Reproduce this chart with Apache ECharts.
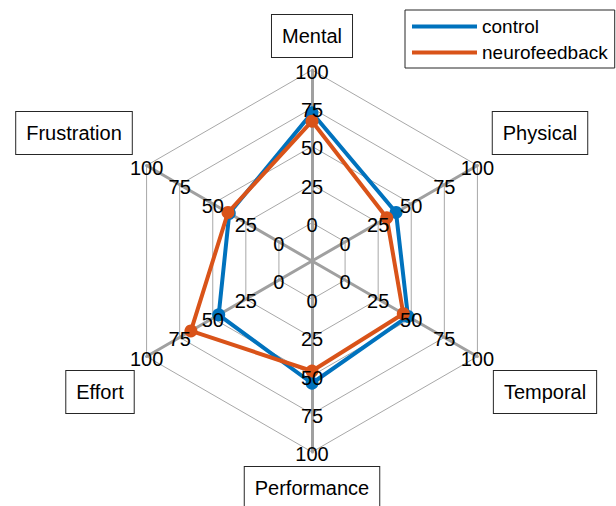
<!DOCTYPE html>
<html>
<head>
<meta charset="utf-8">
<script src="https://cdn.jsdelivr.net/npm/echarts@6/dist/echarts.min.js"></script>
<style>
html,body{margin:0;padding:0;background:#fff;}
#chart{width:616px;height:506px;}
</style>
</head>
<body>
<div id="chart"></div>
<script>
// Categories in clockwise display order, starting at the top
const categories = ['Mental', 'Physical', 'Temporal', 'Performance', 'Effort', 'Frustration'];
const controlValues = [72, 38.5, 47.5, 55, 45.5, 37.5];
const neurofeedbackValues = [66.5, 31.5, 44, 47, 66.5, 38.5];
const tickValues = [0, 25, 50, 75, 100];
const seriesNames = ['control', 'neurofeedback'];
const axisMin = -25;
const axisMax = 100;

const FONT = "'Liberation Sans', Arial, Helvetica, sans-serif";
const CENTER = [312, 261];
const RADIUS = 191;
const BLUE = '#0072BD';
const ORANGE = '#D95319';

// ECharts radar runs counter-clockwise; reorder so display is clockwise
const n = categories.length;
const order = categories.map((_, k) => (n - k) % n);
const indicators = order.map(i => ({ name: categories[i], min: axisMin, max: axisMax }));
const reorder = arr => order.map(i => arr[i]);

// Tick labels placed on each spoke via polar overlay
const tickData = [];
categories.forEach((c, i) => {
  tickValues.forEach(t => tickData.push([t, i * 360 / n]));
});

// Axis name boxes (layout centers)
const namePos = {
  'Mental': [312, 36],
  'Physical': [540, 133],
  'Temporal': [545, 392],
  'Performance': [312, 488],
  'Effort': [100, 392],
  'Frustration': [74, 133]
};

const chart = echarts.init(document.getElementById('chart'), null, { renderer: 'svg' });
chart.setOption({
  backgroundColor: '#fff',
  animation: false,
  textStyle: { fontFamily: FONT },
  legend: {
    data: seriesNames,
    orient: 'vertical',
    left: 405,
    top: 10,
    icon: 'rect',
    itemWidth: 65,
    itemHeight: 4,
    itemGap: 7,
    padding: [7, 7, 6, 7],
    borderColor: '#262626',
    borderWidth: 1,
    backgroundColor: '#fff',
    textStyle: { fontFamily: FONT, fontSize: 19, color: '#000' },
    selectedMode: false
  },
  radar: {
    center: CENTER,
    radius: RADIUS,
    shape: 'polygon',
    splitNumber: 5,
    indicator: indicators,
    axisName: { show: false },
    axisLabel: { show: false },
    axisTick: { show: false },
    axisLine: { lineStyle: { color: '#a0a0a0', width: 3 } },
    splitLine: { lineStyle: { color: '#a8a8a8', width: 1 } },
    splitArea: { show: false }
  },
  polar: { center: CENTER, radius: RADIUS },
  angleAxis: {
    type: 'value', min: 0, max: 360, startAngle: 90, clockwise: true,
    show: false, axisLine: { show: false }, splitLine: { show: false }, axisLabel: { show: false }, axisTick: { show: false }
  },
  radiusAxis: {
    type: 'value', min: axisMin, max: axisMax,
    show: false, axisLine: { show: false }, splitLine: { show: false }, axisLabel: { show: false }, axisTick: { show: false }
  },
  series: [
    {
      name: seriesNames[0],
      type: 'radar',
      symbol: 'circle',
      symbolSize: 13,
      itemStyle: { color: BLUE },
      lineStyle: { color: BLUE, width: 4 },
      z: 3,
      data: [{ name: seriesNames[0], value: reorder(controlValues) }]
    },
    {
      name: seriesNames[1],
      type: 'radar',
      symbol: 'circle',
      symbolSize: 13,
      itemStyle: { color: ORANGE },
      lineStyle: { color: ORANGE, width: 4 },
      z: 4,
      data: [{ name: seriesNames[1], value: reorder(neurofeedbackValues) }]
    },
    {
      type: 'scatter',
      coordinateSystem: 'polar',
      symbolSize: 0,
      silent: true,
      z: 10,
      itemStyle: { opacity: 1, color: '#000' },
      data: tickData,
      label: {
        show: true,
        position: 'inside',
        offset: [0, 2],
        formatter: p => String(p.value[0]),
        color: '#000',
        opacity: 1,
        textBorderWidth: 0,
        textBorderColor: 'transparent',
        fontSize: 20,
        fontFamily: FONT
      }
    }
  ],
  graphic: categories.map(c => ({
    type: 'text',
    x: namePos[c][0],
    y: namePos[c][1],
    z: 20,
    style: {
      text: c,
      align: 'center',
      verticalAlign: 'middle',
      fill: '#000',
      font: '20px ' + FONT,
      backgroundColor: '#fff',
      borderColor: '#262626',
      borderWidth: 1,
      padding: [9, 10, 9, 10],
      lineHeight: 24
    }
  }))
});
</script>
</body>
</html>
